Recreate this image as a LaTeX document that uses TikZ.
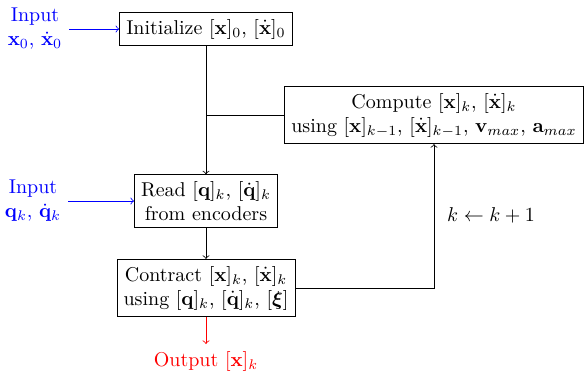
\documentclass[tikz,border=0pt]{standalone}
\usepackage{amsmath,amssymb}
\usetikzlibrary{arrows}
\begin{document}
\begin{tikzpicture}[x=0.5pt,y=-0.5pt,
  box/.style={draw, align=center, fill=white},
  lab/.style={align=center},
  conn/.style={->, >=to}]
\useasboundingbox (0,0) rectangle (585,372);
\node[box] (init) at (206,29) {Initialize $[\mathbf{x}]_0$, $[\dot{\mathbf{x}}]_0$};
\node[box] (comp) at (434,115) {Compute $[\mathbf{x}]_k$, $[\dot{\mathbf{x}}]_k$\\using $[\mathbf{x}]_{k-1}$, $[\dot{\mathbf{x}}]_{k-1}$, $\mathbf{v}_{max}$, $\mathbf{a}_{max}$};
\node[box] (read) at (206,201) {Read $[\mathbf{q}]_k$, $[\dot{\mathbf{q}}]_k$\\from encoders};
\node[box] (contr) at (206,288) {Contract $[\mathbf{x}]_k$, $[\dot{\mathbf{x}}]_k$\\using $[\mathbf{q}]_k$, $[\dot{\mathbf{q}}]_k$, $[\boldsymbol{\xi}]$};
\node[lab, text=blue] (in1) at (35,29) {Input\\$\mathbf{x}_0$, $\dot{\mathbf{x}}_0$};
\node[lab, text=blue] (in2) at (33,201) {Input\\$\mathbf{q}_k$, $\dot{\mathbf{q}}_k$};
\node[lab, text=red, anchor=north] (out) at (206,344) {Output $[\mathbf{x}]_k$};
\node[lab] (kinc) at (491,215) {$k \leftarrow k+1$};
\coordinate (j) at (init.south |- comp.west);
\draw[conn] (init.south) -- (read.north);
\draw (comp.west) -- (j);
\draw[conn] (read.south) -- (contr.north);
\draw[conn] (contr.east) -| (comp.south);
\draw[conn, blue] (in1.east |- init.west) -- (init.west);
\draw[conn, blue] (in2.east |- read.west) -- (read.west);
\draw[conn, red] (contr.south) -- (out.north);
\end{tikzpicture}
\end{document}
